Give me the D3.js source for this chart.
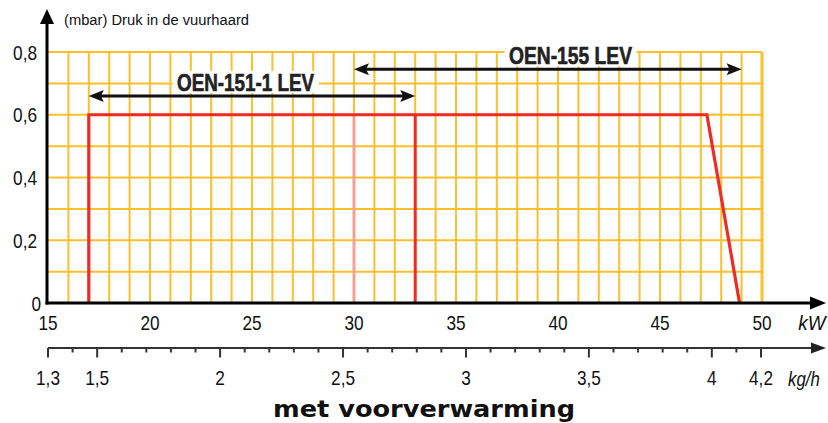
<!DOCTYPE html>
<html><head><meta charset="utf-8">
<script src="https://cdn.jsdelivr.net/npm/d3@7"></script>
<style>html,body{margin:0;padding:0;background:#fff;}svg{display:block;}</style>
</head><body>
<svg id="c" width="828" height="423"></svg>
<script>
// ---- data ----
const kwTicks = [15, 20, 25, 30, 35, 40, 45, 50];
const pressureTicks = [0, 0.2, 0.4, 0.6, 0.8];
const pressureLabels = ["0", "0,2", "0,4", "0,6", "0,8"];
const kghMajor = [1.3, 1.5, 2, 2.5, 3, 3.5, 4, 4.2];
const kghLabels = ["1,3", "1,5", "2", "2,5", "3", "3,5", "4", "4,2"];
const curveKw = [17, 17, 47.3, 48.9];
const curveP = [0, 0.6, 0.6, 0];
const line33 = [[33, 0], [33, 0.6]];
const line30 = [[30, 0], [30, 0.6]];
const rangeLabels = ["OEN-151-1 LEV", "OEN-155 LEV"];
const rangeFrom = [17, 30];
const rangeTo = [33, 49];
const rangeP = [0.66, 0.745];
const yTitle = "(mbar) Druk in de vuurhaard";
const bottomTitle = "met voorverwarming";

// ---- scales ----
const x = d3.scaleLinear().domain([15, 50]).range([48, 762]);
const y = d3.scaleLinear().domain([0, 0.8]).range([303, 52]);
const k = d3.scaleLinear().domain([1.3, 4.2]).range([48, 761]);

const svg = d3.select("#c");
const GRID = "#FDBF2C";
const RED = "#EE2B24";

function condense(sel, f) {
  sel.each(function () {
    const w = this.getComputedTextLength();
    d3.select(this).attr("textLength", w * f).attr("lengthAdjust", "spacingAndGlyphs");
  });
}

// grid
const g = svg.append("g");
g.selectAll("line.v").data(d3.range(16, 51)).join("line")
  .attr("x1", d => x(d)).attr("x2", d => x(d))
  .attr("y1", y(0)).attr("y2", y(0.8))
  .attr("stroke", GRID).attr("stroke-width", d => d === 50 ? 3 : 2);
g.selectAll("line.h").data(d3.range(1, 9).map(d => d / 10)).join("line")
  .attr("x1", x(15)).attr("x2", x(50))
  .attr("y1", d => y(d)).attr("y2", d => y(d))
  .attr("stroke", GRID).attr("stroke-width", 2);

// range labels with white backgrounds
const labW = [146, 132];
const labFont = 'bold 23px "Liberation Sans",Arial,sans-serif';
const labCx = [245.5, 570.5];
rangeLabels.forEach((t, i) => {
  const by = y(rangeP[i]) - 5;
  svg.append("rect").attr("x", labCx[i] - labW[i] / 2).attr("y", by - 20)
    .attr("width", labW[i]).attr("height", 22).attr("fill", "#fff");
  svg.append("text").attr("x", labCx[i]).attr("y", by)
    .attr("text-anchor", "middle").style("font", labFont).attr("fill", "#222")
    .attr("stroke", "#222").attr("stroke-width", 0.6)
    .attr("textLength", labW[i] - 9).attr("lengthAdjust", "spacingAndGlyphs")
    .text(t);
});

// red curves
const ln = d3.line().x(d => x(d[0])).y(d => y(d[1]));
svg.append("path").datum(line30).attr("d", ln).attr("stroke", "#F7A08E")
  .attr("stroke-width", 3).attr("fill", "none");
svg.append("path").datum(line33).attr("d", ln).attr("stroke", RED)
  .attr("stroke-width", 3).attr("fill", "none");
svg.append("path").datum(curveKw.map((d, i) => [d, curveP[i]])).attr("d", ln)
  .attr("stroke", RED).attr("stroke-width", 3.2).attr("fill", "none")
  .attr("stroke-linejoin", "miter");

// double arrows
rangeLabels.forEach((t, i) => {
  const yy = y(rangeP[i]);
  const x1 = x(rangeFrom[i]), x2 = x(rangeTo[i]);
  svg.append("line").attr("x1", x1 + 8).attr("x2", x2 - 8).attr("y1", yy).attr("y2", yy)
    .attr("stroke", "#111").attr("stroke-width", 3);
  svg.append("path").attr("d", `M${x1},${yy}L${x1 + 15},${yy - 6}L${x1 + 12},${yy}L${x1 + 15},${yy + 6}Z`).attr("fill", "#111");
  svg.append("path").attr("d", `M${x2},${yy}L${x2 - 15},${yy - 6}L${x2 - 12},${yy}L${x2 - 15},${yy + 6}Z`).attr("fill", "#111");
});

// main axes
svg.append("line").attr("x1", 47).attr("x2", 47).attr("y1", y(0) + 1.5).attr("y2", 20)
  .attr("stroke", "#000").attr("stroke-width", 3);
svg.append("path").attr("d", "M47,9L54,24L40,24Z").attr("fill", "#000");
svg.append("line").attr("x1", 45.5).attr("x2", 812).attr("y1", y(0)).attr("y2", y(0))
  .attr("stroke", "#000").attr("stroke-width", 3);
svg.append("path").attr("d", `M826,${y(0)}L810,${y(0) - 6.5}L810,${y(0) + 6.5}Z`).attr("fill", "#000");

const tickFont = '21px "Liberation Sans",Arial,sans-serif';
const CF = 0.82;

// y tick labels
svg.selectAll("text.yl").data(pressureTicks).join("text").attr("class", "yl")
  .attr("x", (d, i) => i === 0 ? 41 : 37).attr("y", d => y(d) + 7.5)
  .attr("text-anchor", "end").style("font", tickFont).attr("fill", "#111")
  .text((d, i) => pressureLabels[i]).call(condense, CF);

// x tick labels
svg.selectAll("text.xl").data(kwTicks).join("text").attr("class", "xl")
  .attr("x", d => x(d)).attr("y", 330)
  .attr("text-anchor", "middle").style("font", tickFont).attr("fill", "#111")
  .text(d => d).call(condense, CF);
svg.append("text").attr("x", 812).attr("y", 330).attr("text-anchor", "middle")
  .style("font", 'italic ' + tickFont).attr("fill", "#111").text("kW").call(condense, 0.9);

// kg/h axis
const ka = svg.append("g");
ka.append("line").attr("x1", 48).attr("x2", 812).attr("y1", 348).attr("y2", 348)
  .attr("stroke", "#333").attr("stroke-width", 2);
ka.append("path").attr("d", "M826,348L811,342.5L811,353.5Z").attr("fill", "#222");
const minor = d3.range(13, 43).map(d => d / 10).filter(v => !kghMajor.some(m => Math.abs(m - v) < 1e-6));
ka.selectAll("line.mi").data(minor).join("line").attr("class", "mi")
  .attr("x1", d => k(d)).attr("x2", d => k(d)).attr("y1", 348).attr("y2", 352.5)
  .attr("stroke", "#333").attr("stroke-width", 2);
ka.selectAll("line.ma").data(kghMajor).join("line").attr("class", "ma")
  .attr("x1", d => k(d)).attr("x2", d => k(d)).attr("y1", 348).attr("y2", 357.5)
  .attr("stroke", "#333").attr("stroke-width", 2);
ka.selectAll("text.kl").data(kghMajor).join("text").attr("class", "kl")
  .attr("x", d => k(d)).attr("y", 385)
  .attr("text-anchor", "middle").style("font", tickFont).attr("fill", "#111")
  .text((d, i) => kghLabels[i]).call(condense, CF);
svg.append("text").attr("x", 804).attr("y", 386).attr("text-anchor", "middle")
  .style("font", 'italic ' + tickFont).attr("fill", "#111").text("kg/h").call(condense, 0.8);

// titles
svg.append("text").attr("x", 64).attr("y", 25)
  .style("font", '14px "Liberation Sans",Arial,sans-serif').attr("fill", "#111")
  .attr("textLength", 185).attr("lengthAdjust", "spacingAndGlyphs").text(yTitle);
svg.append("text").attr("x", 424).attr("y", 417).attr("text-anchor", "middle")
  .style("font", '900 23px "DejaVu Sans","Liberation Sans",sans-serif').attr("fill", "#111")
  .attr("textLength", 302).attr("lengthAdjust", "spacingAndGlyphs").text(bottomTitle);
</script>
</body></html>
